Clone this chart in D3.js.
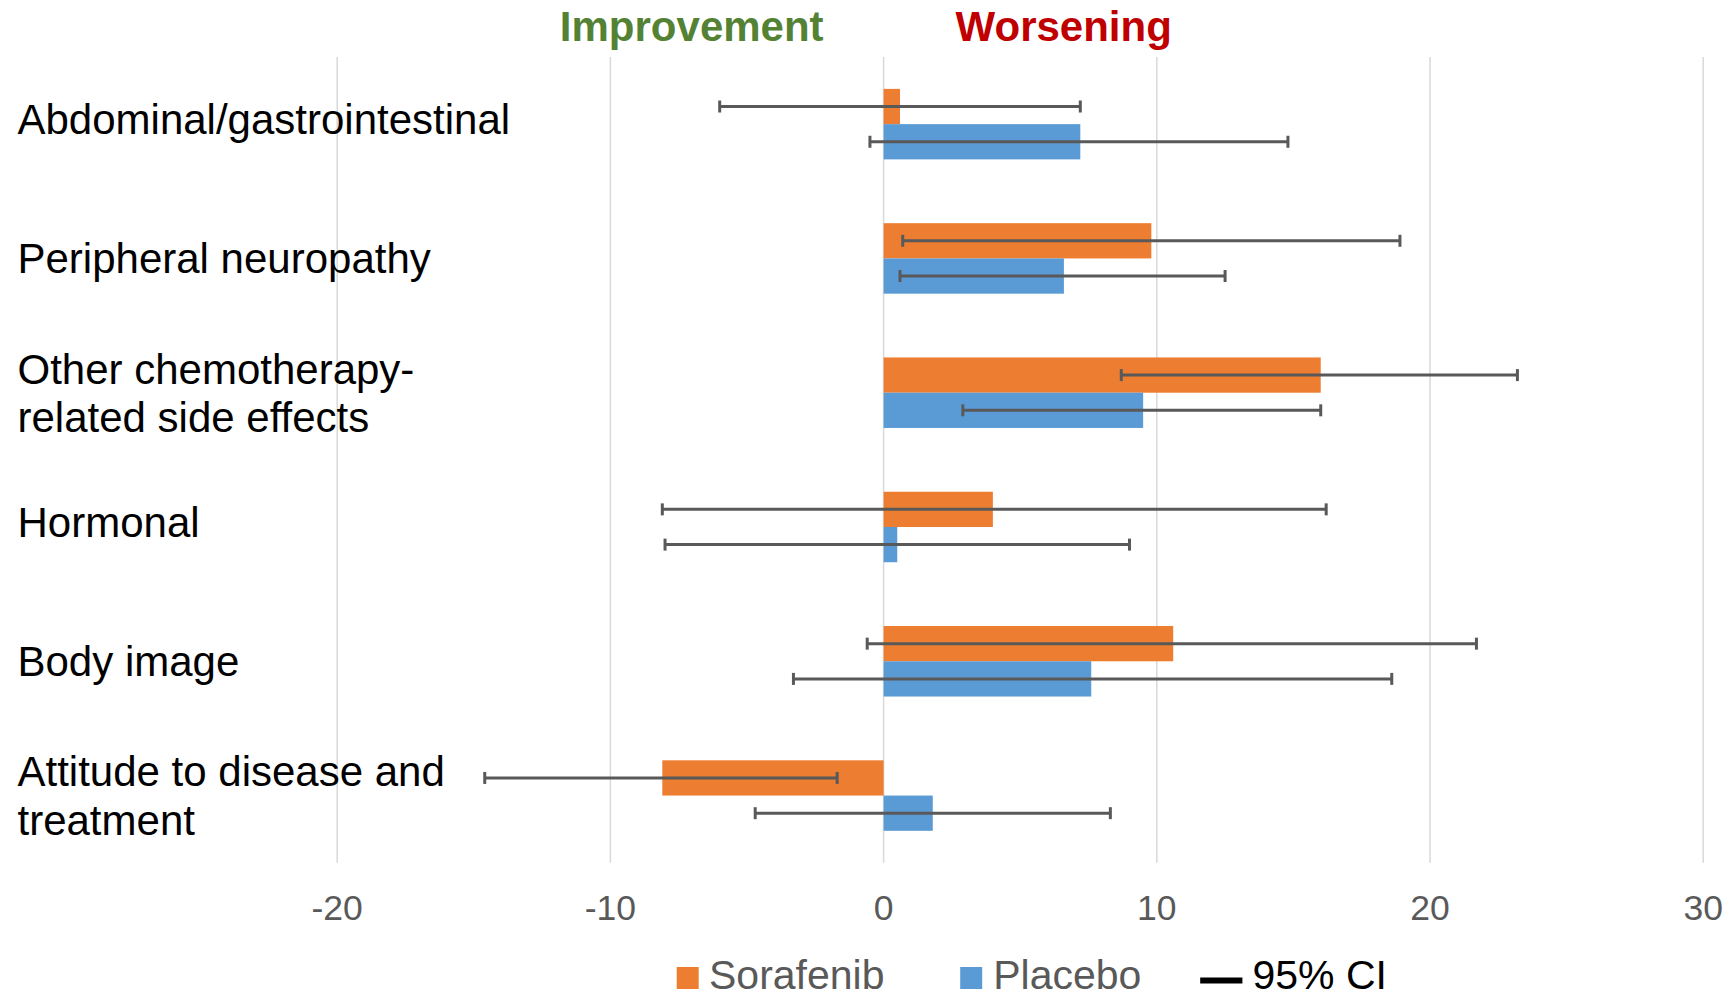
<!DOCTYPE html>
<html>
<head>
<meta charset="utf-8">
<script src="https://cdn.jsdelivr.net/npm/d3@7"></script>
<style>
  html, body { margin: 0; padding: 0; background: #fff; }
  svg { display: block; font-family: "Liberation Sans", Arial, Helvetica, sans-serif; }
</style>
</head>
<body>
<svg id="chart" width="1734" height="999"></svg>
<script>
// Change from baseline by symptom domain, with 95% confidence intervals
const categories = [
  "Abdominal/gastrointestinal",
  "Peripheral neuropathy",
  "Other chemotherapy-related side effects",
  "Hormonal",
  "Body image",
  "Attitude to disease and treatment"
];
const categoryLines = [
  ["Abdominal/gastrointestinal"],
  ["Peripheral neuropathy"],
  ["Other chemotherapy-", "related side effects"],
  ["Hormonal"],
  ["Body image"],
  ["Attitude to disease and", "treatment"]
];
const seriesNames = ["Sorafenib", "Placebo"];
const sorafenib     = [0.6, 9.8, 16.0, 4.0, 10.6, -8.1];
const sorafenibLow  = [-6.0, 0.7, 8.7, -8.1, -0.6, -14.6];
const sorafenibHigh = [7.2, 18.9, 23.2, 16.2, 21.7, -1.7];
const placebo       = [7.2, 6.6, 9.5, 0.5, 7.6, 1.8];
const placeboLow    = [-0.5, 0.6, 2.9, -8.0, -3.3, -4.7];
const placeboHigh   = [14.8, 12.5, 16.0, 9.0, 18.6, 8.3];
const xTicks = [-20, -10, 0, 10, 20, 30];
const ciLabel = "95% CI";
const improvementLabel = "Improvement";
const worseningLabel = "Worsening";

const colors = { Sorafenib: "#ED7D31", Placebo: "#5B9BD5" };
const gridColor = "#D9D9D9";
const errColor = "#595959";
const textGray = "#595959";

const rows = categories.map((c, i) => ({
  category: c,
  lines: categoryLines[i],
  series: [
    { name: "Sorafenib", value: sorafenib[i], low: sorafenibLow[i], high: sorafenibHigh[i] },
    { name: "Placebo", value: placebo[i], low: placeboLow[i], high: placeboHigh[i] }
  ]
}));

const svg = d3.select("#chart");

const x = d3.scaleLinear().domain([-20, 30]).range([337.2, 1703.2]);
const y = d3.scaleBand().domain(categories).range([57, 862.7])
  .paddingInner(0.475).paddingOuter(0.2375);
const ySub = d3.scaleBand().domain(seriesNames).range([0, y.bandwidth()]);

// vertical gridlines
svg.append("g").selectAll("line").data(xTicks).join("line")
  .attr("x1", d => x(d)).attr("x2", d => x(d))
  .attr("y1", 57).attr("y2", 862.7)
  .attr("stroke", gridColor).attr("stroke-width", 1.5);

// x axis tick labels
svg.append("g").selectAll("text").data(xTicks).join("text")
  .attr("x", d => x(d)).attr("y", 920)
  .attr("text-anchor", "middle")
  .attr("font-size", 35.5).attr("fill", textGray)
  .text(d => d);

// bars
const groups = svg.append("g").selectAll("g").data(rows).join("g")
  .attr("transform", d => `translate(0,${y(d.category)})`);

groups.selectAll("rect").data(d => d.series).join("rect")
  .attr("x", d => x(Math.min(0, d.value)))
  .attr("y", d => ySub(d.name))
  .attr("width", d => Math.abs(x(d.value) - x(0)))
  .attr("height", ySub.bandwidth())
  .attr("fill", d => colors[d.name]);

// confidence interval whiskers
const capHalf = 6;
const err = groups.selectAll("g.err").data(d => d.series).join("g").attr("class", "err")
  .attr("stroke", errColor).attr("stroke-width", 3);
err.append("line")
  .attr("x1", d => x(d.low)).attr("x2", d => x(d.high))
  .attr("y1", d => ySub(d.name) + ySub.bandwidth() / 2)
  .attr("y2", d => ySub(d.name) + ySub.bandwidth() / 2);
err.append("line")
  .attr("x1", d => x(d.low)).attr("x2", d => x(d.low))
  .attr("y1", d => ySub(d.name) + ySub.bandwidth() / 2 - capHalf)
  .attr("y2", d => ySub(d.name) + ySub.bandwidth() / 2 + capHalf);
err.append("line")
  .attr("x1", d => x(d.high)).attr("x2", d => x(d.high))
  .attr("y1", d => ySub(d.name) + ySub.bandwidth() / 2 - capHalf)
  .attr("y2", d => ySub(d.name) + ySub.bandwidth() / 2 + capHalf);

// category labels, left aligned, block centred on the category band
const labelSize = 42;
const lineGap = 48.3;
const labelNudge = { "Abdominal/gastrointestinal": -5.5, "Hormonal": -5.5 };
svg.append("g").selectAll("text").data(rows).join("text")
  .attr("font-size", labelSize).attr("fill", "#000")
  .each(function (d) {
    const cy = y(d.category) + y.bandwidth() / 2 + (labelNudge[d.category] || 0);
    const n = d.lines.length;
    d3.select(this).selectAll("tspan").data(d.lines).join("tspan")
      .attr("x", 17.5)
      .attr("y", (t, j) => cy + (j - (n - 1) / 2) * lineGap + 0.716 * labelSize / 2)
      .text(t => t);
  });

// direction headers
svg.append("text")
  .attr("x", x(0) - 60).attr("y", 40.5)
  .attr("text-anchor", "end")
  .attr("font-size", 42).attr("font-weight", "bold").attr("fill", "#548235")
  .text(improvementLabel);
svg.append("text")
  .attr("x", x(0) + 72).attr("y", 40.5)
  .attr("text-anchor", "start")
  .attr("font-size", 42).attr("font-weight", "bold").attr("fill", "#C00000")
  .text(worseningLabel);

// legend
const legendBase = 989;
const legend = svg.append("g");
const legendItems = [
  { name: "Sorafenib", sx: 676.7, tx: 709 },
  { name: "Placebo", sx: 960.2, tx: 993.2 }
];
legend.selectAll("rect").data(legendItems).join("rect")
  .attr("x", d => d.sx).attr("y", legendBase - 22).attr("width", 22).attr("height", 22)
  .attr("fill", d => colors[d.name]);
legend.selectAll("text.series").data(legendItems).join("text").attr("class", "series")
  .attr("x", d => d.tx).attr("y", legendBase)
  .attr("font-size", 41).attr("fill", textGray)
  .text(d => d.name);
legend.append("rect")
  .attr("x", 1200.2).attr("y", legendBase - 11.5).attr("width", 42.2).attr("height", 6)
  .attr("fill", "#000");
legend.append("text")
  .attr("x", 1252.5).attr("y", legendBase)
  .attr("font-size", 41).attr("fill", "#000")
  .text(ciLabel);
</script>
</body>
</html>
